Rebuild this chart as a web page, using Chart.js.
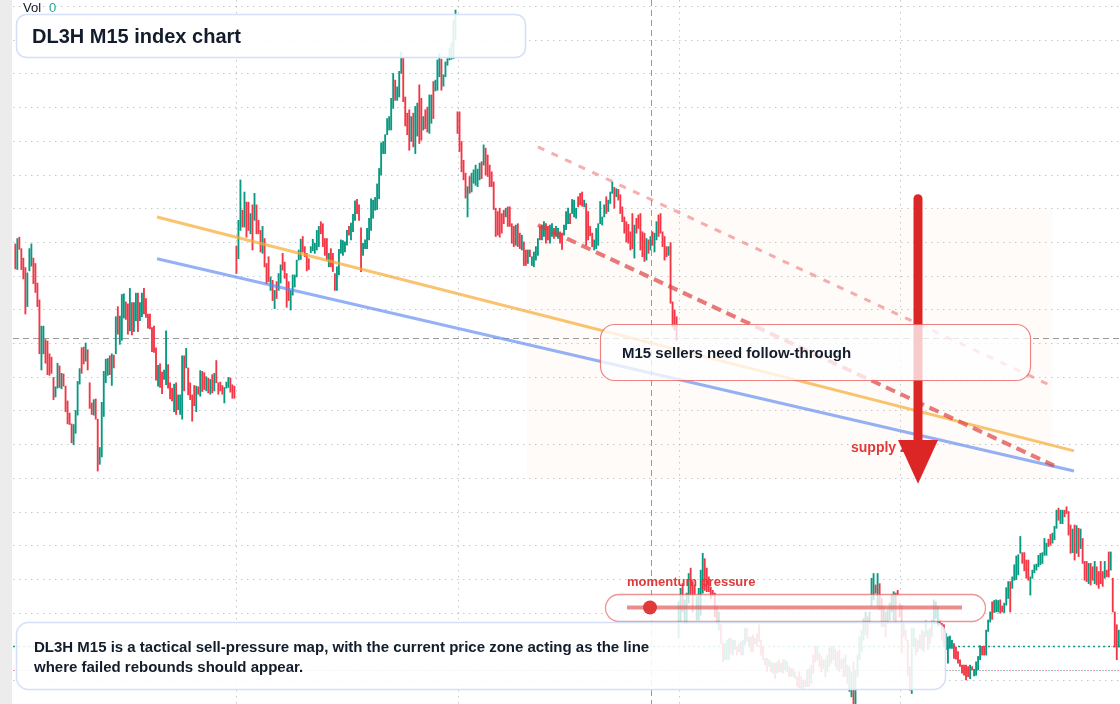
<!DOCTYPE html>
<html><head><meta charset="utf-8">
<script src="https://cdn.jsdelivr.net/npm/chart.js@4.4.1/dist/chart.umd.min.js"></script>
<style>html,body{margin:0;padding:0;background:#fff;overflow:hidden}#wrap{position:relative;width:1120px;height:704px}</style>
</head><body><div id="wrap"><canvas id="c"></canvas></div>
<script>
// ---- DATA (bar index -> price high / low, up flag) ----
const session1High = [164.7,165.5,165.7,164.0,162.6,161.2,160.4,164.0,164.7,162.6,161.8,158.9,156.4,152.5,152.5,150.5,150.3,148.4,147.9,144.9,143.5,147.0,146.6,145.5,145.4,143.6,141.4,139.6,138.0,137.9,140.0,144.3,146.2,149.3,149.4,150.0,149.0,144.1,141.1,141.6,141.7,138.7,134.5,141.2,145.8,147.6,147.7,148.1,148.4,148.2,153.9,155.4,154.0,157.2,157.3,156.1,155.8,158.1,156.0,156.0,157.4,157.4,156.0,157.4,158.1,156.6,154.3,154.3,152.3,152.5,149.3,146.7,146.9,145.7,146.0,151.8,146.8,144.1,143.3,143.9,144.1,142.3,142.3,148.1,148.1,149.2,146.3,144.1,142.3,143.7,143.6,143.5,145.9,145.8,145.6,145.0,144.8,144.6,145.3,145.5,147.4,144.1,144.2,143.7,143.4,144.2,144.9,144.8,143.8,143.6];
const session1Low = [161.0,160.9,163.9,160.9,159.5,154.3,155.4,160.7,161.4,158.8,157.5,155.4,148.4,146.0,148.4,147.0,145.3,145.2,145.5,141.6,142.0,143.3,143.4,143.2,143.6,139.8,138.0,137.9,135.2,134.9,136.6,139.3,143.9,145.5,146.9,147.3,146.0,140.3,139.4,139.3,138.7,131.0,132.0,133.1,139.1,144.1,145.2,145.3,143.7,146.3,148.4,151.3,149.8,150.4,153.7,153.5,151.3,151.8,151.2,151.7,153.3,151.7,153.3,153.9,154.3,153.8,152.2,152.1,148.7,148.6,144.5,143.6,143.4,142.5,144.6,143.8,143.3,141.7,141.4,139.8,139.4,140.1,139.4,138.7,142.9,146.3,142.3,141.6,138.4,140.7,139.8,142.4,142.1,142.8,143.1,142.9,142.6,142.4,142.6,142.9,144.1,142.4,142.9,142.4,141.1,143.3,143.4,142.7,141.8,141.8];
const session1Up = [0,1,0,0,0,0,1,1,1,0,0,0,0,1,1,0,0,0,0,0,1,1,0,1,0,0,0,0,0,1,1,1,1,0,0,1,0,0,0,1,0,0,1,1,1,1,1,0,1,0,1,0,1,1,1,0,0,1,0,1,1,0,1,1,0,0,0,0,0,0,0,1,0,0,1,1,0,0,0,1,0,1,1,1,0,1,0,0,0,0,1,0,1,0,0,1,0,1,0,1,0,0,0,0,1,1,1,0,0,0];

const session2High = [164.4,168.2,174.2,169.7,172.4,170.9,170.9,169.2,170.5,172.2,170.5,168.2,166.7,167.3,165.5,161.8,162.8,159.8,159.3,157.8,159.1,160.3,161.6,163.3,162.0,160.3,159.1,157.8,160.1,160.1,162.3,163.8,165.4,165.8,164.3,163.3,162.5,164.3,165.4,164.8,166.7,167.3,168.0,167.7,165.5,165.5,163.3,164.0,163.3,160.3,161.3,163.9,165.3,165.2,165.0,166.7,167.3,167.8,169.1,171.1,171.3,170.5,167.1,164.8,165.3,167.0,168.5,171.4,171.2,171.6,173.6,175.9,179.7,179.9,180.9,183.3,183.6,186.3,190.0,189.0,188.0,190.3,193.2,192.4,186.5,184.1,184.6,183.6,184.1,185.1,185.6,188.3,186.3,183.6,184.6,185.0,186.8,186.8,188.8,189.0,192.0,193.0,192.1,189.8,191.7,192.2,193.7,194.5,197.9,199.4];
const session2Low = [160.3,162.5,166.7,167.2,167.2,165.7,166.7,166.2,163.8,168.2,166.2,166.2,163.5,163.3,161.3,158.8,159.1,157.8,156.3,155.1,156.6,157.8,158.9,160.8,159.6,155.3,156.3,154.9,157.1,158.3,159.8,162.3,162.4,163.5,162.8,160.7,160.9,163.4,163.7,163.3,163.8,164.3,166.2,164.3,163.0,162.3,161.3,161.3,160.6,157.8,157.8,160.1,163.3,163.0,163.5,164.5,166.0,165.3,166.5,168.2,169.2,168.2,160.6,163.0,164.0,164.0,165.3,166.7,168.5,169.7,169.8,171.4,174.9,178.1,178.1,180.9,181.6,181.6,184.8,186.0,186.0,186.5,190.0,185.8,182.2,180.9,178.6,179.9,179.1,178.1,180.7,179.6,180.1,181.6,181.8,181.3,181.1,182.6,183.3,187.4,187.5,189.5,187.5,188.1,189.5,191.2,192.0,192.1,192.2,195.0];
const session2Up = [0,1,1,0,1,0,0,1,0,1,0,0,0,1,0,0,0,1,0,1,0,1,1,0,0,0,0,1,1,1,1,1,1,0,0,0,0,1,1,1,1,1,0,0,0,0,1,0,0,0,1,1,1,1,1,1,0,1,1,1,0,0,0,1,1,1,1,1,1,1,1,1,1,1,1,1,1,1,1,0,1,1,1,0,0,0,0,1,0,1,1,0,0,1,0,0,1,1,0,1,1,1,0,1,1,1,1,1,1,1];

const session3High = [184.3,184.3,179.9,177.1,175.2,173.2,174.7,175.2,175.7,176.4,175.8,176.7,176.9,179.4,178.9,177.9,176.4,175.4,173.9,170.0,169.5,170.0,169.2,169.7,170.0,170.2,170.2,167.7,167.3,167.5,167.7,166.3,166.0,165.0,163.8,163.8,163.8,162.8,163.5,164.3,165.5,167.3,167.5,168.0,167.7,167.3,167.5,167.7,167.0,167.3,167.0,166.5,166.3,167.5,169.5,170.0,169.2,171.3,171.2,170.0,171.7,172.2,172.4,171.2,170.7,169.5,167.3,166.3,165.3,167.0,167.7,171.0,168.7,170.5,171.7,171.2,172.4,173.9,173.1,172.9,172.8,172.0,170.2,168.7,168.0,167.6,166.5,169.2,167.5,168.5,169.0,169.2,166.5,166.3,165.5,165.3,165.8,166.5,166.3,168.0,169.0,169.2,166.5,165.8,164.3,164.3,164.9,156.1,154.9,153.9];
const session3Low = [181.1,178.4,175.4,174.2,171.5,168.7,172.2,172.4,173.7,173.4,173.2,174.2,174.4,176.4,174.9,174.7,173.2,173.2,169.8,165.8,166.0,165.7,166.3,167.7,168.7,167.3,167.3,164.8,164.3,164.5,164.3,164.0,163.8,161.5,161.5,161.8,162.8,161.5,161.3,162.3,163.0,165.3,165.3,165.8,164.8,165.3,164.8,165.8,165.5,165.8,165.5,164.8,163.9,166.0,166.8,167.7,167.7,169.2,168.7,168.5,170.2,170.5,170.3,170.2,164.5,165.3,165.9,164.3,163.8,164.0,164.5,167.7,167.5,168.7,169.2,169.5,170.7,172.2,170.0,171.7,171.2,169.2,168.0,166.3,165.0,164.8,163.8,164.0,162.6,166.3,167.0,163.8,162.8,162.1,162.3,163.3,163.8,164.5,163.5,165.3,165.8,166.3,164.3,162.3,162.8,163.0,155.9,152.4,151.9,150.4];
const session3Up = [0,0,0,0,0,1,0,1,1,1,1,1,0,1,0,0,0,0,0,0,0,0,0,0,1,0,0,0,0,1,0,0,1,0,0,1,0,1,1,1,1,0,1,1,0,0,1,1,0,1,1,0,0,1,1,1,0,1,1,1,0,0,0,1,0,0,0,0,1,1,1,1,1,1,0,1,1,1,0,1,0,0,0,0,0,0,0,0,1,0,0,0,0,0,1,0,1,0,1,1,0,0,0,0,0,1,0,0,0,0];

const session4High = [111.6,113.6,114.3,111.9,112.9,115.8,116.6,114.6,114.1,112.4,113.6,116.3,118.8,118.0,116.6,115.3,113.8,113.3,112.9,110.9,110.1,108.2,105.4,105.4,105.9,106.2,106.2,105.9,105.9,105.0,105.4,105.7,105.9,107.7,107.7,106.4,106.4,106.7,106.2,106.9,108.2,105.9,105.0,103.2,103.2,103.0,102.7,102.5,102.5,102.7,103.0,102.5,103.0,103.0,102.7,102.0,101.7,101.7,101.2,100.5,101.2,100.5,100.0,100.0,101.5,101.7,102.2,103.7,105.0,105.0,104.0,103.5,103.0,103.0,103.7,104.7,105.0,105.0,104.5,104.2,104.5,103.0,103.2,103.7,102.2,102.0,101.2,102.7,101.5,103.7,106.4,107.4,109.1,110.1,109.4,110.1,115.1,115.8,114.1,115.8,114.3,112.1,110.9,110.1,110.4,111.4,112.6,113.1,112.9,113.3];
const session4Low = [106.2,108.7,110.1,108.4,108.4,111.4,112.6,110.1,112.6,108.9,108.9,109.6,112.9,113.3,113.1,113.1,112.1,112.6,109.4,108.4,107.4,105.4,102.7,103.0,103.0,103.0,103.9,103.7,104.5,103.7,104.2,103.7,103.7,105.2,105.7,105.0,104.2,104.2,105.4,105.0,105.7,103.7,103.0,102.2,101.2,102.0,101.2,101.0,100.2,101.0,101.2,101.2,101.0,101.5,101.2,100.5,100.5,100.5,100.2,99.0,98.8,98.8,98.6,99.0,99.0,99.0,99.5,101.0,102.7,103.0,102.0,101.2,101.7,100.5,101.2,102.0,102.5,103.0,102.0,101.5,101.2,101.7,100.5,100.5,99.5,98.3,97.5,96.5,96.3,100.5,103.0,104.2,105.9,106.7,106.2,108.4,110.9,111.9,112.9,110.9,110.4,107.9,107.9,106.4,108.4,108.9,110.1,108.9,108.7,112.6];
const session4Up = [1,1,0,1,1,1,0,0,0,1,1,1,1,0,0,0,0,0,0,0,1,0,0,1,1,1,0,1,1,0,1,0,1,1,0,1,0,0,1,0,0,0,0,1,0,1,0,1,0,1,0,1,0,1,1,0,1,0,1,0,0,0,1,0,1,0,1,0,0,1,0,0,1,0,1,1,0,1,0,1,0,1,0,1,0,1,1,0,1,1,1,1,1,1,0,1,1,1,0,1,0,0,1,0,1,1,1,1,0,0];

const session5High = [111.4,111.1,108.4,107.4,105.9,102.0,107.7,107.7,106.2,105.9,106.7,107.4,107.2,108.9,107.4,107.7,108.9,111.9,111.6,110.9,108.9,108.4,108.2,106.9,106.4,106.5,105.9,105.4,104.9,104.2,103.0,102.2,102.2,102.2,102.0,102.2,102.0,101.6,102.7,103.5,105.1,105.0,105.0,107.4,108.9,110.1,111.6,111.8,111.9,111.8,111.9,111.0,111.4,113.7,114.6,114.6,115.3,117.1,118.4,118.6,121.3,118.9,118.9,117.8,117.8,115.3,116.3,117.1,117.2,118.5,118.8,118.9,121.0,120.3,120.9,121.6,121.8,122.8,125.2,125.5,125.2,125.2,125.2,125.7,125.0,123.0,122.4,123.0,122.9,122.5,122.4,121.0,117.6,117.6,117.3,117.3,116.8,117.6,116.8,116.1,117.6,116.1,117.6,116.3,119.0,119.0,115.1,110.1,108.2,107.4];
const session5Low = [109.4,104.0,106.4,105.9,100.7,98.5,98.0,105.0,103.7,104.2,104.7,104.5,104.2,106.4,104.5,105.4,106.4,108.4,109.1,107.9,108.4,105.9,105.0,104.5,102.5,104.7,104.7,103.2,103.1,102.5,102.0,101.0,100.7,100.0,100.5,100.2,101.5,100.6,100.7,101.5,103.0,103.7,103.7,103.7,107.2,108.6,109.0,110.0,110.1,110.1,109.9,110.1,110.0,111.1,112.1,110.1,113.6,114.8,114.9,115.6,118.8,117.3,116.2,115.1,114.8,112.6,115.1,115.9,116.3,116.8,117.1,117.3,118.5,118.5,119.8,120.0,120.3,120.8,122.5,123.7,123.2,123.2,124.2,124.7,121.5,118.8,118.9,117.8,118.8,118.3,119.5,117.3,114.8,114.6,114.3,114.1,114.8,114.3,114.1,113.6,114.3,113.9,115.1,115.3,115.3,116.3,110.1,104.9,103.0,104.9];
const session5Up = [0,0,1,0,0,0,1,1,0,1,0,1,0,1,1,0,1,1,1,1,0,0,0,1,1,1,1,0,0,0,0,0,0,0,0,1,0,1,1,1,1,0,0,1,1,1,0,1,1,1,0,0,1,1,1,0,1,1,1,1,1,0,0,0,0,1,1,1,1,1,1,1,1,1,0,0,1,1,1,0,1,1,0,0,0,0,1,0,1,0,1,0,0,0,1,0,0,1,0,0,0,0,1,0,0,1,0,0,0,1];

// trend lines: [barIndex, price] endpoints
const orangeTrend = [[70.5,168.7],[526.7,134.0]];
const blueTrend = [[70.5,162.5],[526.7,131.0]];
const redChannelLow = [[260.0,167.5],[516.8,131.8]];
const redChannelHigh = [[260.0,179.1],[515.8,143.6]];
// supply zone box, arrow, crosshair, price lines
const supplyZone = {from:254.6, to:515.8, top:169.7, bottom:130.0};
const arrowMark = {bar:449.1, top:171.4, base:135.6, tip:129.1};
const crosshair = {bar:316.3, price:150.7};
const lastPriceLine = 105.0;
const prevPriceLine = 101.5;
const priceGrid = [100,105,110,115,120,125,130,135,140,145,150,155,160,165,170,175,180,185,190,195,200];
const timeGrid = [110,220,330,440];

const highs = [].concat(session1High, session2High, session3High, session4High, session5High);
const lows = [].concat(session1Low, session2Low, session3Low, session4Low, session5Low);
const ups = [].concat(session1Up, session2Up, session3Up, session4Up, session5Up);
const barData = highs.map((h, i) => ({x: i, y: [lows[i], h]}));

const UP = '#089981', DOWN = '#f23645';
const FONT = '"Liberation Sans", Arial, Helvetica, sans-serif';

function rrect(ctx, x, y, w, h, r) {
  ctx.beginPath();
  ctx.moveTo(x + r, y);
  ctx.lineTo(x + w - r, y); ctx.arcTo(x + w, y, x + w, y + r, r);
  ctx.lineTo(x + w, y + h - r); ctx.arcTo(x + w, y + h, x + w - r, y + h, r);
  ctx.lineTo(x + r, y + h); ctx.arcTo(x, y + h, x, y + h - r, r);
  ctx.lineTo(x, y + r); ctx.arcTo(x, y, x + r, y, r);
  ctx.closePath();
}

const backPlugin = {
  id: 'back',
  beforeDraw(chart) {
    const ctx = chart.ctx;
    ctx.save();
    ctx.fillStyle = '#ffffff'; ctx.fillRect(0, 0, chart.width, chart.height);
    ctx.fillStyle = '#ececec'; ctx.fillRect(0, 0, 12, chart.height);
    ctx.restore();
  },
  beforeDatasetsDraw(chart) {
    const {ctx, chartArea: a, scales: {x, y}} = chart;
    ctx.save();
    // grid
    ctx.strokeStyle = 'rgba(150,156,166,0.55)'; ctx.lineWidth = 1; ctx.setLineDash([1.5, 4.5]);
    priceGrid.forEach(v => { const py = Math.round(y.getPixelForValue(v)) + 0.5; ctx.beginPath(); ctx.moveTo(a.left, py); ctx.lineTo(a.right, py); ctx.stroke(); });
    timeGrid.forEach(v => { const px = Math.round(x.getPixelForValue(v)) + 0.5; ctx.beginPath(); ctx.moveTo(px, a.top); ctx.lineTo(px, a.bottom); ctx.stroke(); });
    // zone
    ctx.setLineDash([]);
    ctx.fillStyle = 'rgba(245,200,160,0.07)';
    const zx0 = x.getPixelForValue(supplyZone.from), zx1 = x.getPixelForValue(supplyZone.to);
    const zy0 = y.getPixelForValue(supplyZone.top), zy1 = y.getPixelForValue(supplyZone.bottom);
    ctx.fillRect(zx0, zy0, zx1 - zx0, zy1 - zy0);
    // crosshair
    ctx.strokeStyle = '#9a9a9a'; ctx.lineWidth = 1; ctx.setLineDash([6, 4]);
    const cx = Math.round(x.getPixelForValue(crosshair.bar)) + 0.5, cy = Math.round(y.getPixelForValue(crosshair.price)) + 0.5;
    ctx.beginPath(); ctx.moveTo(cx, a.top); ctx.lineTo(cx, a.bottom); ctx.stroke();
    ctx.beginPath(); ctx.moveTo(a.left, cy); ctx.lineTo(a.right, cy); ctx.stroke();
    // price lines
    const ly = Math.round(y.getPixelForValue(lastPriceLine)) + 0.5;
    ctx.strokeStyle = '#0f9d88'; ctx.lineWidth = 1.6; ctx.setLineDash([2, 3]);
    ctx.beginPath(); ctx.moveTo(a.left, ly); ctx.lineTo(a.right, ly); ctx.stroke();
    const py2 = Math.round(y.getPixelForValue(prevPriceLine)) + 0.5;
    ctx.lineWidth = 1.2; ctx.setLineDash([2, 4]);
    ctx.strokeStyle = 'rgba(242,54,69,0.5)'; ctx.lineDashOffset = 0;
    ctx.beginPath(); ctx.moveTo(a.left, py2); ctx.lineTo(a.right, py2); ctx.stroke();
    ctx.strokeStyle = 'rgba(38,166,154,0.5)'; ctx.lineDashOffset = 3;
    ctx.beginPath(); ctx.moveTo(a.left, py2); ctx.lineTo(a.right, py2); ctx.stroke();
    ctx.restore();
  },
  afterDatasetsDraw(chart) {
    const {ctx, scales: {x, y}} = chart;
    ctx.save();
    ctx.textBaseline = 'middle';
    // supply zone label
    ctx.fillStyle = '#e03a3a'; ctx.font = 'bold 14px ' + FONT;
    ctx.fillText('supply zone', 851, 448);
    // arrow
    const ax = x.getPixelForValue(arrowMark.bar);
    const yt = y.getPixelForValue(arrowMark.top), yb = y.getPixelForValue(arrowMark.base), yp = y.getPixelForValue(arrowMark.tip);
    ctx.strokeStyle = '#dc2626'; ctx.lineWidth = 9; ctx.lineCap = 'round';
    ctx.beginPath(); ctx.moveTo(ax, yt); ctx.lineTo(ax, yb + 2); ctx.stroke();
    ctx.lineCap = 'butt';
    ctx.fillStyle = '#dc2626';
    ctx.beginPath(); ctx.moveTo(ax - 20, yb); ctx.lineTo(ax + 20, yb); ctx.lineTo(ax, yp); ctx.closePath(); ctx.fill();
    // sellers box
    rrect(ctx, 600.5, 324.5, 430, 56, 14);
    ctx.fillStyle = 'rgba(255,255,255,0.76)'; ctx.fill();
    ctx.strokeStyle = 'rgba(232,90,90,0.75)'; ctx.lineWidth = 1.2; ctx.stroke();
    ctx.fillStyle = '#131c2b'; ctx.font = 'bold 15px ' + FONT;
    ctx.fillText('M15 sellers need follow-through', 622, 353.5);
    // title box
    rrect(ctx, 16.5, 14.5, 509, 43, 10);
    ctx.fillStyle = 'rgba(255,255,255,0.88)'; ctx.fill();
    ctx.strokeStyle = '#d3e0f5'; ctx.lineWidth = 1.5; ctx.stroke();
    ctx.fillStyle = '#131c2b'; ctx.font = 'bold 20px ' + FONT;
    ctx.fillText('DL3H M15 index chart', 32, 37);
    // momentum pill
    ctx.fillStyle = '#e03a3a'; ctx.font = 'bold 13px ' + FONT;
    ctx.fillText('momentum pressure', 627, 582.5);
    rrect(ctx, 605.5, 594.5, 380, 27, 13.5);
    ctx.fillStyle = 'rgba(255,255,255,0.78)'; ctx.fill();
    ctx.strokeStyle = 'rgba(228,90,90,0.65)'; ctx.lineWidth = 1.3; ctx.stroke();
    ctx.strokeStyle = 'rgba(226,80,80,0.65)'; ctx.lineWidth = 4;
    ctx.beginPath(); ctx.moveTo(627, 607.5); ctx.lineTo(962, 607.5); ctx.stroke();
    ctx.fillStyle = '#e03a3a'; ctx.beginPath(); ctx.arc(650, 607.5, 7, 0, Math.PI * 2); ctx.fill();
    // bottom box
    rrect(ctx, 16.5, 622.5, 929, 67, 12);
    ctx.fillStyle = 'rgba(255,255,255,0.88)'; ctx.fill();
    ctx.strokeStyle = '#d3e0f5'; ctx.lineWidth = 1.5; ctx.stroke();
    ctx.fillStyle = '#131c2b'; ctx.font = 'bold 15px ' + FONT;
    ctx.fillText('DL3H M15 is a tactical sell-pressure map, with the current price zone acting as the line', 34, 648);
    ctx.fillText('where failed rebounds should appear.', 34, 668);
    // Vol legend
    ctx.font = '13px ' + FONT; ctx.fillStyle = '#131722';
    ctx.fillText('Vol', 23, 8.5);
    ctx.fillStyle = '#26a69a'; ctx.fillText('0', 49, 8.5);
    ctx.restore();
  }
};

function trend(pts, color, width, dash, order) {
  return {type: 'line', data: pts.map(p => ({x: p[0], y: p[1]})), borderColor: color, borderWidth: width,
    borderDash: dash, pointRadius: 0, tension: 0, fill: false, order: order, borderCapStyle: 'butt'};
}

new Chart(document.getElementById('c'), {
  type: 'bar',
  data: {
    datasets: [
      trend(redChannelHigh, 'rgba(235,110,110,0.55)', 3, [7, 8], 1),
      trend(redChannelLow, 'rgba(220,60,60,0.68)', 4, [10, 6], 2),
      trend(blueTrend, 'rgba(90,135,240,0.65)', 3, [], 3),
      trend(orangeTrend, 'rgba(246,170,50,0.7)', 3, [], 4),
      {type: 'bar', data: barData, order: 10, barThickness: 1.2,
       backgroundColor: barData.map((d, i) => ups[i] ? UP : DOWN), borderWidth: 0}
    ]
  },
  options: {
    responsive: true, maintainAspectRatio: false, animation: false, devicePixelRatio: 1,
    layout: {padding: {left: 13, right: 0, top: 0, bottom: 0}},
    plugins: {legend: {display: false}, tooltip: {enabled: false}},
    events: [],
    scales: {
      x: {type: 'linear', display: false, min: -1.15, max: 549.6, offset: false},
      y: {type: 'linear', display: false, min: 96.44, max: 200.89, beginAtZero: false}
    }
  },
  plugins: [backPlugin]
});
</script></body></html>
